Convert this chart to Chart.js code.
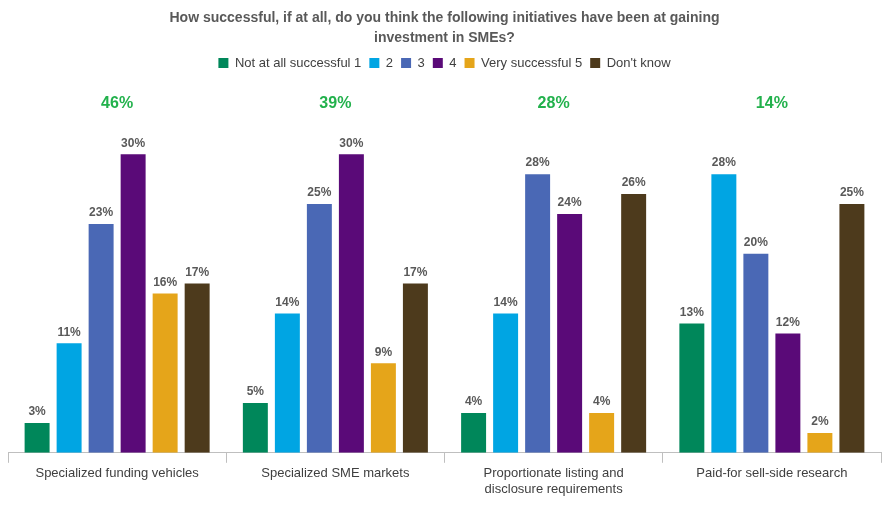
<!DOCTYPE html>
<html>
<head>
<meta charset="utf-8">
<script src="https://cdn.jsdelivr.net/npm/chart.js@4"></script>
<style>
  body { margin: 0; background: #fff; }
  #wrap { width: 887px; height: 512px; }
</style>
</head>
<body>
<div id="wrap"><canvas id="grafico"></canvas></div>
<script>
// Dati del grafico
var categorie = [
  'Specialized funding vehicles',
  'Specialized SME markets',
  ['Proportionate listing and', 'disclosure requirements'],
  'Paid-for sell-side research'
];
var serie = ['Not at all successful 1', '2', '3', '4', 'Very successful 5', "Don't know"];
var colori = ['#00875a', '#00a5e3', '#4a68b5', '#5a0a78', '#e5a51a', '#4d3a1c'];
var valori1 = [3, 5, 4, 13];
var valori2 = [11, 14, 14, 28];
var valori3 = [23, 25, 28, 20];
var valori4 = [30, 30, 24, 12];
var valori5 = [16, 9, 4, 2];
var valoriNonSo = [17, 17, 26, 25];
var totaliPositivi = ['46%', '39%', '28%', '14%'];

var tuttiValori = [valori1, valori2, valori3, valori4, valori5, valoriNonSo];

var datasets = tuttiValori.map(function (v, i) {
  return {
    label: serie[i],
    data: v,
    backgroundColor: colori[i],
    categoryPercentage: 0.88,
    barPercentage: 0.78
  };
});

// Plugin: etichette dei valori e totali verdi
var etichette = {
  id: 'etichette',
  afterDatasetsDraw: function (chart) {
    var ctx = chart.ctx;
    ctx.save();
    ctx.font = 'bold 12px Arial, "Liberation Sans"';
    ctx.fillStyle = '#595959';
    ctx.textAlign = 'center';
    ctx.textBaseline = 'bottom';
    chart.data.datasets.forEach(function (ds, i) {
      chart.getDatasetMeta(i).data.forEach(function (bar, j) {
        ctx.fillText(ds.data[j] + '%', bar.x, bar.y - 5);
      });
    });
    ctx.font = 'bold 16px Arial, "Liberation Sans"';
    ctx.fillStyle = '#22b14c';
    ctx.textBaseline = 'middle';
    var xs = chart.scales.x;
    totaliPositivi.forEach(function (t, j) {
      ctx.fillText(t, xs.getPixelForValue(j), 104);
    });
    ctx.restore();
  }
};

new Chart(document.getElementById('grafico').getContext('2d'), {
  type: 'bar',
  data: { labels: categorie, datasets: datasets },
  options: {
    responsive: true,
    maintainAspectRatio: false,
    animation: false,
    layout: { padding: { left: 8, right: 6, top: 0, bottom: 12 } },
    plugins: {
      title: {
        display: true,
        text: ['How successful, if at all, do you think the following initiatives have been at gaining', 'investment in SMEs?'],
        color: '#595959',
        font: { size: 14, weight: 'bold', family: 'Arial, "Liberation Sans"', lineHeight: 1.45 },
        padding: { top: 8, bottom: 0 }
      },
      legend: {
        labels: {
          boxWidth: 10, boxHeight: 10,
          color: '#404040',
          font: { size: 13, family: 'Arial, "Liberation Sans"' },
          padding: 8
        }
      },
      tooltip: { enabled: false }
    },
    scales: {
      x: {
        grid: { display: true, drawOnChartArea: false, offset: true, color: '#bfbfbf', tickLength: 10 },
        border: { color: '#bfbfbf' },
        ticks: { color: '#404040', font: { size: 13, family: 'Arial, "Liberation Sans"' } }
      },
      y: {
        display: false,
        min: 0,
        max: 37.5
      }
    }
  },
  plugins: [etichette]
});
</script>
</body>
</html>
